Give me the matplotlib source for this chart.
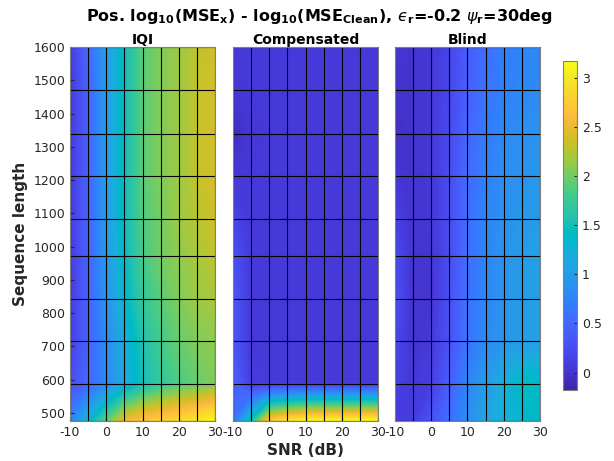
import numpy as np
import matplotlib
matplotlib.use("Agg")
import matplotlib.pyplot as plt
from matplotlib.colors import LinearSegmentedColormap, Normalize
from matplotlib.cm import ScalarMappable

plt.rcParams['font.family'] = ['DejaVu Sans']
plt.rcParams['mathtext.fontset'] = 'custom'
plt.rcParams['mathtext.rm'] = 'DejaVu Sans:bold'
plt.rcParams['mathtext.it'] = 'DejaVu Sans:italic'
plt.rcParams['mathtext.bf'] = 'DejaVu Sans:bold'

# ---------------- data ----------------
snr = [-10, -5, 0, 5, 10, 15, 20, 25, 30]
seq_len = [476, 588, 716, 844, 972, 1084, 1212, 1340, 1472, 1600]

iqi = [
    [0.75, 1.30, 1.90, 2.50, 2.70, 2.80, 2.90, 3.00, 3.17],
    [0.25, 0.50, 0.80, 1.15, 1.50, 1.70, 1.85, 1.95, 2.05],
    [0.10, 0.45, 0.80, 1.20, 1.55, 1.80, 1.95, 2.05, 2.10],
    [0.08, 0.45, 0.90, 1.35, 1.70, 1.90, 2.05, 2.15, 2.20],
    [0.08, 0.45, 0.95, 1.40, 1.80, 2.00, 2.10, 2.20, 2.30],
    [0.08, 0.45, 1.00, 1.45, 1.85, 2.00, 2.15, 2.25, 2.35],
    [0.05, 0.45, 1.00, 1.45, 1.90, 2.05, 2.15, 2.30, 2.38],
    [0.05, 0.45, 1.00, 1.45, 1.90, 2.05, 2.15, 2.30, 2.38],
    [0.05, 0.45, 1.00, 1.45, 1.90, 2.05, 2.15, 2.30, 2.38],
    [0.10, 0.50, 1.00, 1.45, 1.90, 2.05, 2.15, 2.28, 2.35],
]
compensated = [
    [0.60, 1.50, 2.75, 3.00, 3.15, 3.17, 3.17, 3.17, 3.17],
    [0.45, 0.10, 0.07, 0.07, 0.07, 0.07, 0.07, 0.07, 0.07],
    [0.35, 0.06, 0.06, 0.06, 0.06, 0.06, 0.06, 0.06, 0.06],
    [0.35, 0.06, 0.06, 0.06, 0.06, 0.06, 0.06, 0.06, 0.06],
    [0.30, 0.06, 0.06, 0.06, 0.06, 0.06, 0.06, 0.06, 0.06],
    [0.18, 0.06, 0.06, 0.06, 0.06, 0.06, 0.06, 0.06, 0.06],
    [0.04, 0.06, 0.06, 0.06, 0.06, 0.06, 0.06, 0.06, 0.06],
    [-0.08, 0.04, 0.06, 0.06, 0.06, 0.06, 0.06, 0.06, 0.06],
    [0.03, 0.06, 0.06, 0.06, 0.06, 0.06, 0.06, 0.06, 0.06],
    [0.06, 0.06, 0.06, 0.06, 0.06, 0.06, 0.06, 0.06, 0.06],
]
blind = [
    [0.10, 0.10, 0.30, 0.55, 0.85, 1.10, 1.25, 1.30, 1.40],
    [0.15, 0.05, 0.12, 0.40, 0.75, 1.00, 1.20, 1.45, 1.38],
    [0.20, 0.00, 0.08, 0.30, 0.60, 0.80, 0.92, 1.00, 1.05],
    [0.30, 0.00, 0.02, 0.28, 0.58, 0.78, 0.90, 1.00, 1.05],
    [0.25, 0.00, 0.02, 0.25, 0.55, 0.75, 0.90, 1.00, 1.05],
    [0.15, 0.00, 0.05, 0.25, 0.55, 0.75, 0.88, 0.95, 1.00],
    [0.05, 0.00, 0.05, 0.25, 0.52, 0.70, 0.85, 0.90, 0.95],
    [-0.05, 0.00, 0.05, 0.22, 0.48, 0.65, 0.80, 0.85, 0.90],
    [0.00, 0.00, 0.05, 0.20, 0.42, 0.60, 0.72, 0.78, 0.82],
    [0.05, 0.00, 0.05, 0.18, 0.40, 0.55, 0.68, 0.75, 0.80],
]
panel_titles = ["IQI", "Compensated", "Blind"]
xticks = [-10, 0, 10, 20, 30]
yticks = [500, 600, 700, 800, 900, 1000, 1100, 1200, 1300, 1400, 1500, 1600]
cbar_ticks = [0, 0.5, 1, 1.5, 2, 2.5, 3]
clim = (-0.177, 3.17)

# ---------------- parula colormap ----------------
parula_data = [
[0.2422,0.1504,0.6603],[0.2504,0.1650,0.7076],[0.2578,0.1818,0.7511],[0.2647,0.1978,0.7952],
[0.2706,0.2147,0.8364],[0.2751,0.2342,0.8710],[0.2783,0.2559,0.8991],[0.2803,0.2782,0.9221],
[0.2813,0.3006,0.9414],[0.2810,0.3228,0.9579],[0.2795,0.3447,0.9717],[0.2760,0.3667,0.9829],
[0.2699,0.3892,0.9906],[0.2602,0.4123,0.9952],[0.2440,0.4358,0.9988],[0.2206,0.4603,0.9973],
[0.1963,0.4847,0.9892],[0.1834,0.5074,0.9798],[0.1786,0.5289,0.9682],[0.1764,0.5499,0.9520],
[0.1687,0.5703,0.9359],[0.1540,0.5902,0.9218],[0.1460,0.6091,0.9079],[0.1380,0.6276,0.8973],
[0.1248,0.6459,0.8883],[0.1113,0.6635,0.8763],[0.0952,0.6798,0.8598],[0.0689,0.6948,0.8394],
[0.0297,0.7082,0.8163],[0.0036,0.7203,0.7917],[0.0067,0.7312,0.7660],[0.0433,0.7411,0.7394],
[0.0964,0.7500,0.7120],[0.1408,0.7584,0.6842],[0.1717,0.7670,0.6554],[0.1938,0.7758,0.6251],
[0.2161,0.7843,0.5923],[0.2470,0.7918,0.5567],[0.2906,0.7973,0.5188],[0.3406,0.8008,0.4789],
[0.3909,0.8029,0.4354],[0.4456,0.8024,0.3909],[0.5044,0.7993,0.3480],[0.5616,0.7942,0.3045],
[0.6174,0.7876,0.2612],[0.6720,0.7793,0.2227],[0.7242,0.7698,0.1910],[0.7738,0.7598,0.1646],
[0.8203,0.7498,0.1535],[0.8634,0.7406,0.1596],[0.9035,0.7330,0.1774],[0.9393,0.7288,0.2100],
[0.9728,0.7298,0.2394],[0.9956,0.7434,0.2371],[0.9970,0.7659,0.2199],[0.9952,0.7893,0.2028],
[0.9892,0.8136,0.1885],[0.9786,0.8386,0.1766],[0.9676,0.8639,0.1643],[0.9610,0.8890,0.1537],
[0.9597,0.9135,0.1423],[0.9628,0.9373,0.1265],[0.9691,0.9606,0.1064],[0.9769,0.9839,0.0805]]
parula = LinearSegmentedColormap.from_list("parula", parula_data, N=256)
norm = Normalize(*clim)

# ---------------- figure ----------------
W, H = 614, 461
fig = plt.figure(figsize=(W / 100, H / 100), dpi=100)
tick_col = (0.15, 0.15, 0.15)

lefts = [70, 233, 395]
ax_w = 145
top_px, bot_px = 47, 421
datasets = [iqi, compensated, blind]
levels = np.linspace(clim[0], clim[1], 300)

for i, (lp, Z, ttl) in enumerate(zip(lefts, datasets, panel_titles)):
    ax = fig.add_axes([lp / W, 1 - bot_px / H, ax_w / W, (bot_px - top_px) / H])
    Zarr = np.array(Z)
    ax.contourf(snr, seq_len, Zarr, levels=levels, cmap=parula, norm=norm,
                extend='both', antialiased=False)
    ax.vlines(snr, seq_len[0], seq_len[-1], colors='black', linewidth=0.8, zorder=3)
    ax.hlines(seq_len, snr[0], snr[-1], colors='black', linewidth=0.8, zorder=3)
    ax.set_xlim(snr[0], snr[-1])
    ax.set_ylim(seq_len[0], seq_len[-1])
    ax.set_xticks(xticks)
    ax.set_xticklabels([str(t) for t in xticks])
    ax.tick_params(direction='in', length=3, colors=tick_col, labelsize=9,
                   labelcolor=tick_col, top=False, right=False)
    if i == 0:
        ax.set_yticks(yticks)
        ax.set_yticklabels([str(t) for t in yticks])
        ax.set_ylabel("Sequence length", fontsize=11, fontweight='bold',
                      color=tick_col, labelpad=4)
    else:
        ax.set_yticks([])
    for sp in ax.spines.values():
        sp.set_color((0.5, 0.5, 0.5))
        sp.set_linewidth(0.8)
        sp.set_zorder(4)
    ax.set_title(ttl, fontsize=10, fontweight='bold', pad=1.5)
    if i == 1:
        ax.set_xlabel("SNR (dB)", fontsize=11, fontweight='bold',
                      color=tick_col, labelpad=3)

cax = fig.add_axes([563 / W, 1 - 390 / H, 14 / W, (390 - 61) / H])
cb = fig.colorbar(ScalarMappable(norm=norm, cmap=parula), cax=cax)
cb.set_ticks(cbar_ticks)
cb.set_ticklabels(["0", "0.5", "1", "1.5", "2", "2.5", "3"])
cax.tick_params(direction='in', length=2, colors=tick_col, labelsize=9, labelcolor=tick_col)
cb.outline.set_edgecolor((0.5, 0.5, 0.5))
cb.outline.set_linewidth(0.8)

fig.text(319 / W, 1 - 17 / H,
         "Pos. log$_{\\mathrm{10}}$(MSE$_{\\mathrm{x}}$) - log$_{\\mathrm{10}}$(MSE$_{\\mathrm{Clean}}$), "
         "$\u03f5_{\\mathrm{r}}$=-0.2 $\\psi_{\\mathrm{r}}$=30deg",
         ha='center', va='center', fontsize=11.5, fontweight='bold')

fig.savefig("out.png", dpi=100)
